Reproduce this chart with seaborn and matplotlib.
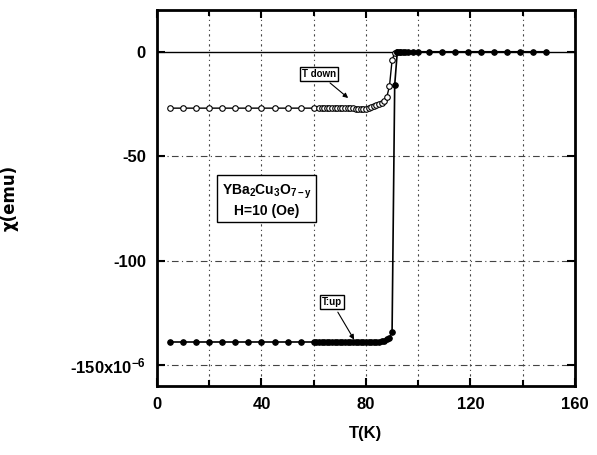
import seaborn as sns
import matplotlib.pyplot as plt
import pandas as pd
from matplotlib.ticker import FixedLocator, FixedFormatter

# cooling (T down) data, open circles
T_down = [5, 10, 15, 20, 25, 30, 35, 40, 45, 50, 55, 60, 62, 63, 64, 65, 66, 67, 68, 69, 70,
          71, 72, 73, 74, 75, 76, 77, 78, 79, 80, 81, 82, 83, 84, 85, 86, 87, 88, 89, 90, 91, 92, 93]
chi_down = [-27, -27, -27, -27, -27, -27, -27, -27, -27, -27, -27, -27, -27, -27, -27, -27, -27, -27, -27, -27, -27,
            -27, -27, -27, -27, -27, -27.2, -27.3, -27.4, -27.4, -27.3, -27.0, -26.6, -26.2, -25.6, -25.0, -24.3, -23.4, -21.5, -16.5, -4, -0.5, 0, 0]

# warming (T up) data, filled circles
T_up = [5, 10, 15, 20, 25, 30, 35, 40, 45, 50, 55, 60, 61, 62, 63, 64, 65, 66, 67, 68, 69, 70,
        71, 72, 73, 74, 75, 76, 77, 78, 79, 80, 81, 82, 83, 84, 85, 86, 87, 88, 89, 90, 91, 92,
        93, 94, 95, 96, 98, 100, 104, 109, 114, 119, 124, 129, 134, 139, 144, 149]
chi_up = [-139, -139, -139, -139, -139, -139, -139, -139, -139, -139, -139, -139, -139, -139, -139, -139, -139, -139, -139, -139, -139, -139,
          -139, -139, -139, -139, -139, -139, -139, -139, -139, -139, -139, -139, -139, -139, -138.8, -138.6, -138.3, -137.8, -137, -134, -16, 0,
          0, 0, 0, 0, 0, 0, 0, 0, 0, 0, 0, 0, 0, 0, 0, 0]

x_ticks = [0, 40, 80, 120, 160]
y_ticks = [-150, -100, -50, 0]
y_ticklabels = ['-150x10$^{-6}$', '-100', '-50', '0']

down = pd.DataFrame({'T': T_down, 'chi': chi_down})
up = pd.DataFrame({'T': T_up, 'chi': chi_up})

sns.set_style('ticks', {'axes.edgecolor': 'black', 'text.color': 'black',
                        'xtick.color': 'black', 'ytick.color': 'black', 'axes.labelcolor': 'black'})
plt.rcParams['font.family'] = ['Liberation Sans', 'DejaVu Sans']
plt.rcParams['font.weight'] = 'bold'
plt.rcParams['mathtext.fontset'] = 'custom'
plt.rcParams['mathtext.rm'] = 'Liberation Sans:bold'
plt.rcParams['mathtext.it'] = 'Liberation Sans:bold'
plt.rcParams['mathtext.default'] = 'rm'

fig = plt.figure(figsize=(5.97, 4.55), dpi=100)
ax = fig.add_axes([0.263, 0.152, 0.700, 0.826])

# grid lines, broken dash-dot like the scan
for gx in [20, 40, 60, 80, 100, 120, 140]:
    ax.axvline(gx, color='#444444', lw=0.8, ls=(0, (2, 3, 1, 3)), zorder=0)
for gy in [-150, -100, -50]:
    ax.axhline(gy, color='#444444', lw=0.8, ls=(0, (6, 3, 1, 3)), zorder=0)
ax.axhline(0, color='black', lw=1.0, zorder=0)

sns.lineplot(data=down, x='T', y='chi', ax=ax, color='black', lw=1.0, marker='o',
             markersize=4, markerfacecolor='white', markeredgecolor='black', markeredgewidth=0.8)
sns.lineplot(data=up, x='T', y='chi', ax=ax, color='black', lw=1.2, marker='o',
             markersize=4, markerfacecolor='black', markeredgecolor='black')

ax.set_xlim(0, 160)
ax.set_ylim(-160, 20)
ax.xaxis.set_major_locator(FixedLocator(x_ticks))
ax.yaxis.set_major_locator(FixedLocator(y_ticks))
ax.yaxis.set_major_formatter(FixedFormatter(y_ticklabels))
ax.set_xticks([20, 60, 100, 140], minor=True)
ax.tick_params(which='both', direction='in', top=True, right=True, width=1.5, color='black')
ax.tick_params(which='major', length=6, labelsize=12, pad=8, labelcolor='black')
ax.tick_params(which='minor', length=4)
for lab in ax.get_xticklabels() + ax.get_yticklabels():
    lab.set_fontweight('bold')
for s in ax.spines.values():
    s.set_linewidth(2)
    s.set_color('black')

ax.set_xlabel('T(K)', fontsize=12, fontweight='bold', labelpad=10, color='black')
ax.set_ylabel('χ(emu)', fontsize=12, fontweight='bold', family=['DejaVu Sans'], color='black')
ax.yaxis.set_label_coords(-0.33, 0.5)

ax.text(42, -71, 'YBa$_2$Cu$_3$O$_{7-y}$\nH=10 (Oe)', ha='center', va='center', fontsize=10,
        fontweight='bold', linespacing=1.3, color='black',
        bbox=dict(boxstyle='square,pad=0.3', fc='white', ec='black', lw=1))

ax.annotate('T down', xy=(74, -23), xytext=(62, -10.5), fontsize=7, ha='center', va='center',
            color='black',
            bbox=dict(boxstyle='square,pad=0.2', fc='white', ec='black', lw=1),
            arrowprops=dict(arrowstyle='-|>', color='black', lw=0.8))
ax.annotate('T:up', xy=(76, -139), xytext=(67, -120), fontsize=7, ha='center', va='center',
            color='black',
            bbox=dict(boxstyle='square,pad=0.2', fc='white', ec='black', lw=1),
            arrowprops=dict(arrowstyle='-|>', color='black', lw=0.8))

fig.savefig('out.png', dpi=100)
